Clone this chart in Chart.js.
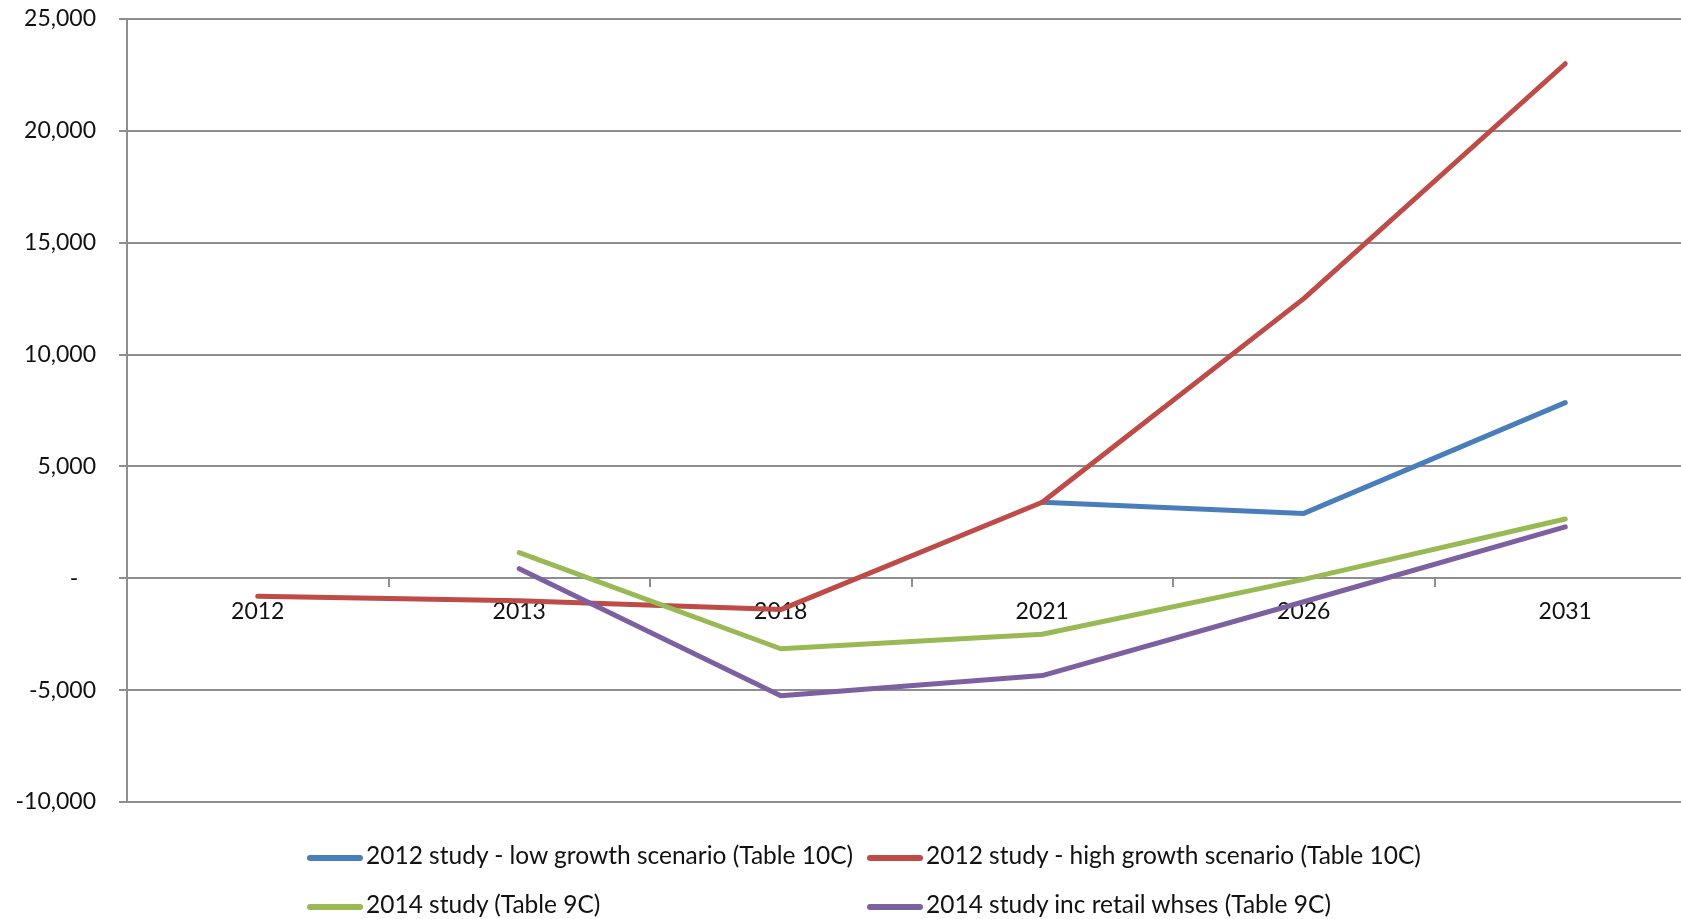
<!DOCTYPE html>
<html>
<head>
<meta charset="utf-8">
<title>Floorspace change by study</title>
<script src="https://cdn.jsdelivr.net/npm/chart.js@4.4.1/dist/chart.umd.min.js"></script>
<style>
html, body {
    margin: 0;
    padding: 0;
    background: #fff;
    overflow: hidden;
}
.chart-wrap {
    position: relative;
    width: 1700px;
    height: 919px;
}
.chart-legend {
    position: absolute;
    left: 307px;
    top: 830px;
    display: grid;
    grid-template-columns: 560px auto;
    font: 24.5px Lato, sans-serif;
    color: #111;
}
.legend-item {
    height: 49px;
    line-height: 49px;
    white-space: nowrap;
}
.legend-item .swatch {
    display: inline-block;
    width: 56px;
    height: 6px;
    border-radius: 3px;
    vertical-align: middle;
    margin-right: 3px;
}
</style>
</head>
<body>
<div class="chart-wrap">
    <canvas id="grafico"></canvas>
    <div class="chart-legend" id="legenda"></div>
</div>

<script>
// categorias e séries
const years = ['2012', '2013', '2018', '2021', '2026', '2031'];
const lowGrowth2012 = [null, null, null, 3400, 2900, 7850];
const highGrowth2012 = [-800, -1000, -1400, 3400, 12500, 23000];
const study2014 = [null, 1150, -3150, -2500, -50, 2650];
const study2014Retail = [null, 430, -5250, -4350, -1050, 2300];

// eixo y
const yMin = -10000;
const yMax = 25000;
const yStep = 5000;

const series = [
    { label: '2012 study - low growth scenario (Table 10C)', data: lowGrowth2012, color: '#4a7ebb' },
    { label: '2012 study - high growth scenario (Table 10C)', data: highGrowth2012, color: '#be4b48' },
    { label: '2014 study (Table 9C)', data: study2014, color: '#98b954' },
    { label: '2014 study inc retail whses (Table 9C)', data: study2014Retail, color: '#7d60a0' }
];

Chart.defaults.font.family = 'Lato, sans-serif';
Chart.defaults.font.size = 23;
Chart.defaults.color = '#111';

const gridColor = '#8e8e8e';

const canvas = document.getElementById('grafico');
canvas.width = 1700;
canvas.height = 919;

new Chart(canvas.getContext('2d'), {
    type: 'line',
    data: {
        labels: years,
        datasets: series.map((s, i) => ({
            label: s.label,
            data: s.data,
            borderColor: s.color,
            backgroundColor: s.color,
            borderWidth: 5,
            borderCapStyle: 'round',
            borderJoinStyle: 'round',
            pointRadius: 0,
            tension: 0,
            fill: false,
            order: series.length - i   // a última série fica por cima
        }))
    },
    options: {
        responsive: false,
        animation: false,
        layout: {
            padding: { top: 19, right: 4, bottom: 117, left: 0 }
        },
        plugins: {
            legend: { display: false },
            tooltip: { enabled: false }
        },
        scales: {
            x: {
                position: { y: 0 },
                offset: true,
                grid: {
                    offset: true,
                    drawOnChartArea: false,
                    drawTicks: true,
                    tickLength: 8,
                    color: gridColor,
                    lineWidth: 2
                },
                border: { display: true, color: gridColor, width: 2 },
                ticks: { padding: 11, maxRotation: 0, autoSkip: false }
            },
            y: {
                min: yMin,
                max: yMax,
                afterFit(scale) {
                    scale.width = 127;
                    scale.paddingTop = 0;
                },
                grid: {
                    color: gridColor,
                    lineWidth: 2,
                    tickLength: 8
                },
                border: { display: true, color: gridColor, width: 2 },
                ticks: {
                    stepSize: yStep,
                    padding: 23,
                    callback: v => v === 0 ? '-   ' : v.toLocaleString('en-US')
                }
            }
        }
    }
});

// legenda em duas colunas
const legenda = document.getElementById('legenda');
series.forEach(s => {
    const item = document.createElement('div');
    item.className = 'legend-item';
    const swatch = document.createElement('span');
    swatch.className = 'swatch';
    swatch.style.background = s.color;
    item.appendChild(swatch);
    item.appendChild(document.createTextNode(s.label));
    legenda.appendChild(item);
});
</script>
</body>
</html>
